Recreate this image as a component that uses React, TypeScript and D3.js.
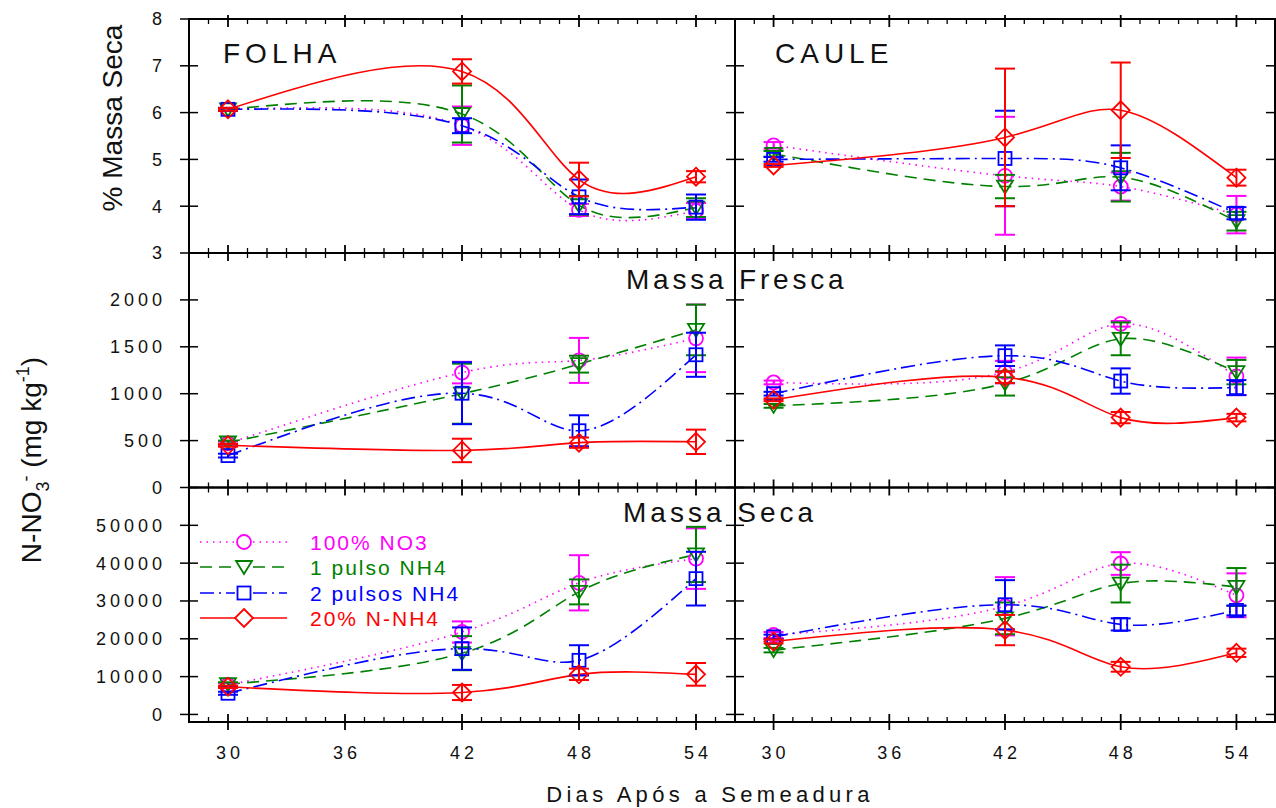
import React from 'react';
import * as d3 from 'd3';

const days = [30, 42, 48, 54];
const seriesNames = ['100% NO3', '1 pulso NH4', '2 pulsos NH4', '20% N-NH4'];

// % massa seca - folha / caule
const folhaPct = [
    [6.07, 5.72, 3.92, 3.9],
    [6.07, 5.97, 4.02, 3.97],
    [6.07, 5.72, 4.2, 3.98],
    [6.07, 6.88, 4.57, 4.63],
];
const folhaPctErr = [
    [0.03, 0.41, 0.13, 0.17],
    [0.03, 0.61, 0.2, 0.2],
    [0.03, 0.16, 0.37, 0.27],
    [0.03, 0.26, 0.36, 0.12],
];
const caulePct = [
    [5.3, 4.65, 4.42, 3.82],
    [5.12, 4.42, 4.62, 3.68],
    [5.0, 5.02, 4.82, 3.85],
    [4.87, 5.47, 6.05, 4.61],
];
const caulePctErr = [
    [0.07, 1.26, 0.3, 0.4],
    [0.06, 0.25, 0.52, 0.2],
    [0.05, 1.02, 0.48, 0.13],
    [0.03, 1.47, 1.02, 0.17],
];

// massa fresca (mg/kg)
const folhaMF = [
    [470, 1225, 1355, 1590],
    [480, 1000, 1315, 1680],
    [340, 1005, 605, 1415],
    [450, 395, 478, 487],
];
const folhaMFErr = [
    [20, 115, 240, 360],
    [20, 320, 90, 270],
    [20, 330, 165, 235],
    [15, 125, 55, 130],
];
const cauleMF = [
    [1120, 1230, 1745, 1185],
    [870, 1110, 1585, 1230],
    [1000, 1405, 1135, 1065],
    [935, 1175, 745, 745],
];
const cauleMFErr = [
    [20, 120, 30, 200],
    [20, 130, 175, 130],
    [20, 110, 135, 80],
    [15, 60, 60, 40],
];

// massa seca (mg/kg)
const folhaMS = [
    [7800, 21800, 34800, 41200],
    [8000, 16200, 32400, 42300],
    [5600, 17400, 14300, 35900],
    [7300, 5800, 10600, 10600],
];
const folhaMSErr = [
    [500, 2800, 7300, 8000],
    [500, 4500, 3300, 7300],
    [400, 5600, 4000, 7100],
    [300, 2000, 1500, 3000],
];
const cauleMS = [
    [21000, 28600, 39900, 31500],
    [17000, 25400, 34600, 33700],
    [20500, 29000, 23800, 27500],
    [19300, 22300, 12600, 16300],
];
const cauleMSErr = [
    [800, 7700, 3000, 5800],
    [600, 4200, 5000, 5000],
    [600, 6500, 1600, 1300],
    [500, 4000, 1300, 1100],
];

const yTicks = [
    [3, 4, 5, 6, 7, 8],
    [0, 500, 1000, 1500, 2000],
    [0, 10000, 20000, 30000, 40000, 50000],
];
const yDomains = [
    [3, 8],
    [0, 2500],
    [-2000, 60000],
];
const xMajor = [30, 36, 42, 48, 54];

const colors = ['#ff00ff', '#008000', '#0000ff', '#ff0000'];
const dashes = ['1.5,5', '12,7', '14,5,2,5', null];

const FONT = "'Liberation Sans', Arial, Helvetica, sans-serif";
const rowsY = [
    [19, 253],
    [253, 487.5],
    [487.5, 722],
];
const colsX = [
    [189, 735],
    [735, 1275],
];

function Marker({ kind, x, y, color }) {
    const p = { fill: 'none', stroke: color, strokeWidth: 1.8 };
    if (kind === 0) return <circle cx={x} cy={y} r={7} {...p} />;
    if (kind === 1)
        return <path d={`M${x - 8},${y - 6}L${x + 8},${y - 6}L${x},${y + 7}Z`} {...p} />;
    if (kind === 2) return <rect x={x - 6.5} y={y - 6.5} width={13} height={13} {...p} />;
    return <path d={`M${x},${y - 9}L${x + 9},${y}L${x},${y + 9}L${x - 9},${y}Z`} {...p} />;
}

function Panel({ row, col, values, errs }) {
    const x = d3.scaleLinear().domain([28, 56]).range(colsX[col]);
    const y = d3
        .scaleLinear()
        .domain(yDomains[row])
        .range([rowsY[row][1], rowsY[row][0]]);
    const [x0, x1] = colsX[col];
    const [top, bottom] = rowsY[row];
    const line = d3
        .line()
        .x((d, i) => x(days[i]))
        .y(d => y(d))
        .curve(d3.curveNatural);
    const minor = d3.range(29, 56).filter(d => !xMajor.includes(d));
    const yt = yTicks[row];

    return (
        <g>
            {/* x ticks top & bottom */}
            {minor.map(d => (
                <g key={'m' + d} stroke="#000" strokeWidth={1.3}>
                    <line x1={x(d)} x2={x(d)} y1={top} y2={top + 5} />
                    <line x1={x(d)} x2={x(d)} y1={bottom} y2={bottom - 5} />
                </g>
            ))}
            {xMajor.map(d => (
                <g key={'M' + d} stroke="#000" strokeWidth={1.8}>
                    <line x1={x(d)} x2={x(d)} y1={top - (row === 0 ? 4 : 0)} y2={top + 8} />
                    <line x1={x(d)} x2={x(d)} y1={bottom + (row === 2 ? 8 : 0)} y2={bottom - 8} />
                </g>
            ))}
            {/* y ticks */}
            {yt.map(v => (
                <g key={'y' + v} stroke="#000" strokeWidth={1.5}>
                    <line x1={x0 - (col === 0 ? 9 : 0)} x2={x0 + 9} y1={y(v)} y2={y(v)} />
                    <line x1={x1 - 9} x2={x1} y1={y(v)} y2={y(v)} />
                </g>
            ))}
            {col === 0 &&
                yt.map(v => (
                    <text
                        key={'yl' + v}
                        x={162 + 4}
                        y={y(v)}
                        dy="0.36em"
                        textAnchor="end"
                        fontSize={18}
                        letterSpacing={4}
                        fontFamily={FONT}
                        fill="#111"
                    >
                        {v}
                    </text>
                ))}
            {row === 2 &&
                xMajor.map(d => (
                    <text
                        key={'xl' + d}
                        x={x(d) + 2}
                        y={759}
                        textAnchor="middle"
                        fontSize={18}
                        letterSpacing={4}
                        fontFamily={FONT}
                        fill="#111"
                    >
                        {d}
                    </text>
                ))}
            {/* curves */}
            {values.map((s, i) => (
                <path
                    key={'c' + i}
                    d={line(s)}
                    fill="none"
                    stroke={colors[i]}
                    strokeWidth={1.6}
                    strokeDasharray={dashes[i] || undefined}
                />
            ))}
            {/* markers + error bars */}
            {values.map((s, i) => (
                <g key={'s' + i}>
                    {s.map((v, j) => {
                        const cx = x(days[j]);
                        const hi = y(v + errs[i][j]);
                        const lo = y(v - errs[i][j]);
                        return (
                            <g key={j}>
                                <Marker kind={i} x={cx} y={y(v)} color={colors[i]} />
                                <g stroke={colors[i]} strokeWidth={2}>
                                    <line x1={cx} x2={cx} y1={hi} y2={lo} />
                                    <line x1={cx - 10} x2={cx + 10} y1={hi} y2={hi} />
                                    <line x1={cx - 10} x2={cx + 10} y1={lo} y2={lo} />
                                </g>
                            </g>
                        );
                    })}
                </g>
            ))}
            <rect
                x={x0}
                y={top}
                width={x1 - x0}
                height={bottom - top}
                fill="none"
                stroke="#000"
                strokeWidth={2}
            />
        </g>
    );
}

function Legend() {
    const rowsL = [542, 567, 593, 618];
    return (
        <g>
            {seriesNames.map((name, i) => (
                <g key={name}>
                    <line
                        x1={200}
                        x2={235}
                        y1={rowsL[i]}
                        y2={rowsL[i]}
                        stroke={colors[i]}
                        strokeWidth={1.6}
                        strokeDasharray={dashes[i] || undefined}
                    />
                    <line
                        x1={253}
                        x2={287}
                        y1={rowsL[i]}
                        y2={rowsL[i]}
                        stroke={colors[i]}
                        strokeWidth={1.6}
                        strokeDasharray={dashes[i] || undefined}
                    />
                    <Marker kind={i} x={244} y={rowsL[i]} color={colors[i]} />
                    <text
                        x={310}
                        y={rowsL[i] + 7.5}
                        fontSize={21}
                        letterSpacing={2}
                        fontFamily={FONT}
                        fill={colors[i]}
                    >
                        {name}
                    </text>
                </g>
            ))}
        </g>
    );
}

export default function App() {
    const panels = [
        { row: 0, col: 0, values: folhaPct, errs: folhaPctErr },
        { row: 0, col: 1, values: caulePct, errs: caulePctErr },
        { row: 1, col: 0, values: folhaMF, errs: folhaMFErr },
        { row: 1, col: 1, values: cauleMF, errs: cauleMFErr },
        { row: 2, col: 0, values: folhaMS, errs: folhaMSErr },
        { row: 2, col: 1, values: cauleMS, errs: cauleMSErr },
    ];
    const title = { fontFamily: FONT, fontSize: 28, fill: '#111' };

    return (
        <svg
            width={1276}
            height={808}
            style={{ position: 'absolute', left: 0, top: 0, background: '#fff' }}
        >
            <rect width={1276} height={808} fill="#fff" />
            {panels.map(p => (
                <Panel key={p.row + '-' + p.col} {...p} />
            ))}
            <Legend />
            <text x={223} y={63} letterSpacing={5} {...title}>FOLHA</text>
            <text x={775} y={63} letterSpacing={5} {...title}>CAULE</text>
            <text x={626} y={289} letterSpacing={3.8} {...title}>Massa Fresca</text>
            <text x={623} y={522} letterSpacing={4} {...title}>Massa Seca</text>
            <text transform="translate(122,118) rotate(-90)" textAnchor="middle" {...title}>
                % Massa Seca
            </text>
            <text transform="translate(41,460) rotate(-90)" textAnchor="middle" {...title}>
                <tspan>N-NO</tspan>
                <tspan dy={8} fontSize={18}>3</tspan>
                <tspan dy={-17} fontSize={18}>-</tspan>
                <tspan dy={9}> (mg kg</tspan>
                <tspan dy={-12} fontSize={18}>-1</tspan>
                <tspan dy={12}>)</tspan>
            </text>
            <text
                x={710}
                y={802}
                textAnchor="middle"
                fontFamily={FONT}
                fontSize={22}
                letterSpacing={4.3}
                fill="#111"
            >
                Dias Após a Semeadura
            </text>
        </svg>
    );
}
